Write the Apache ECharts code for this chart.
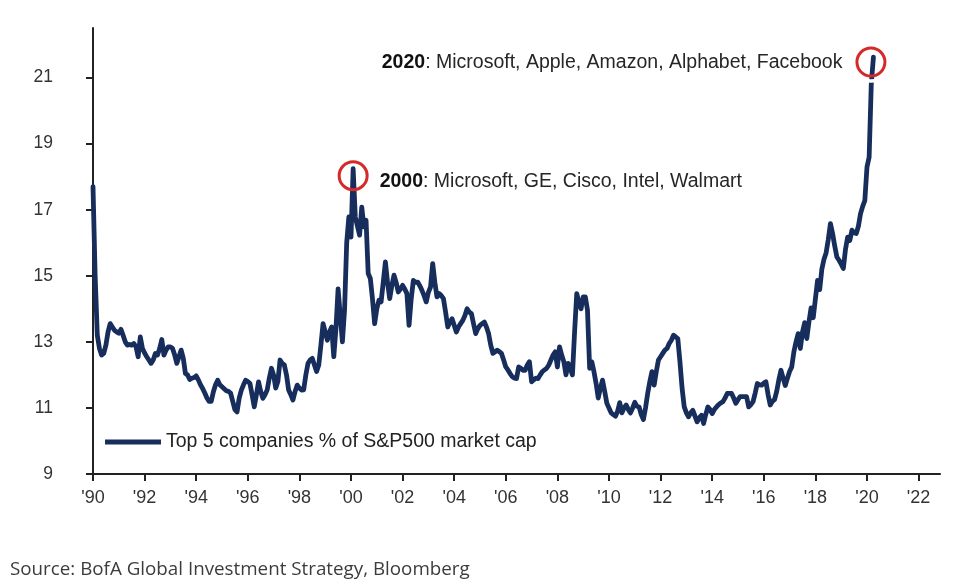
<!DOCTYPE html>
<html><head><meta charset="utf-8">
<script src="https://cdn.jsdelivr.net/npm/echarts@6/dist/echarts.min.js"></script>
<style>html,body{margin:0;padding:0;background:#fff}#c{width:959px;height:588px}</style>
</head><body><div id="c"></div>
<script>
const startYear = 1990; // monthly observations from Jan 1990
const values = [
  17.7,15.0,13.2,12.8,12.6,12.65,12.9,13.3,13.55,13.45,13.35,13.3,
  13.26,13.38,13.2,13.0,12.9,12.92,12.9,12.95,12.85,12.55,13.15,12.8,
  12.66,12.55,12.45,12.35,12.45,12.65,12.6,12.8,13.07,12.6,12.75,12.85,
  12.85,12.8,12.6,12.35,12.55,12.75,12.5,12.04,12.0,11.86,11.9,11.92,
  11.97,11.85,11.7,11.59,11.45,11.3,11.2,11.2,11.49,11.7,11.84,11.7,
  11.64,11.58,11.52,11.5,11.45,11.2,10.95,10.88,11.3,11.54,11.7,11.84,
  11.8,11.74,11.4,11.03,11.4,11.79,11.5,11.29,11.4,11.54,11.9,12.2,
  12.0,11.6,11.8,12.45,12.35,12.3,12.0,11.54,11.4,11.24,11.5,11.69,
  11.6,11.54,11.55,12.0,12.35,12.45,12.5,12.3,12.1,12.3,12.9,13.55,
  13.3,13.05,13.3,13.45,12.55,13.4,14.6,13.8,13.0,13.96,16.0,16.78,
  16.17,18.24,16.78,16.5,16.23,17.08,16.48,16.68,15.07,14.92,14.3,13.55,
  14.0,14.26,14.21,14.8,15.42,14.8,14.31,14.7,15.02,14.8,14.51,14.6,
  14.71,14.6,14.46,13.5,14.3,14.86,14.8,14.81,14.7,14.56,14.4,14.21,
  14.5,14.66,15.37,14.8,14.36,14.46,14.4,14.31,13.9,13.45,13.6,13.7,
  13.5,13.3,13.45,13.55,13.65,13.8,14.0,13.9,13.86,13.55,13.25,13.4,
  13.5,13.55,13.6,13.45,13.25,12.9,12.65,12.7,12.75,12.7,12.65,12.45,
  12.24,12.15,12.04,11.95,11.9,11.89,12.24,12.2,12.14,12.14,12.3,12.4,
  11.79,11.85,11.9,11.89,12.0,12.1,12.15,12.2,12.3,12.45,12.6,12.7,
  12.24,12.85,12.6,12.4,12.0,12.35,12.2,12.0,13.3,14.46,14.2,14.0,
  14.36,14.36,13.96,12.2,12.4,12.1,11.74,11.3,11.6,11.84,11.5,11.14,
  11.0,10.85,10.8,10.75,10.9,11.16,10.85,11.0,11.09,10.95,10.85,11.0,
  11.17,11.05,11.03,10.8,10.65,11.0,11.44,11.8,12.1,11.69,12.1,12.45,
  12.55,12.65,12.75,12.8,12.95,13.05,13.2,13.15,13.1,12.4,11.6,11.03,
  10.85,10.73,10.85,10.93,10.75,10.58,10.7,10.78,10.53,10.8,11.03,10.95,
  10.83,10.95,11.03,11.1,11.15,11.19,11.3,11.44,11.44,11.44,11.3,11.14,
  11.25,11.34,11.34,11.34,11.34,11.03,11.1,11.19,11.45,11.74,11.7,11.69,
  11.75,11.79,11.4,11.09,11.2,11.25,11.5,11.85,12.14,11.9,11.68,11.9,
  12.1,12.24,12.7,13.0,13.25,12.8,13.3,13.58,13.1,13.6,14.03,13.73,
  14.3,14.86,14.58,15.2,15.5,15.7,16.1,16.58,16.28,15.9,15.57,15.47,
  15.35,15.22,15.8,16.17,16.07,16.38,16.3,16.28,16.5,16.88,17.1,17.28,
  18.29,18.59,20.81,21.62
];
const yTicks = [9, 11, 13, 15, 17, 19, 21];
const xTicks = [1990,1992,1994,1996,1998,2000,2002,2004,2006,2008,2010,2012,2014,2016,2018,2020,2022];
const seriesName = 'Top 5 companies % of S&P500 market cap';
const noteYears = ['2000', '2020'];
const noteTexts = ['Microsoft, GE, Cisco, Intel, Walmart', 'Microsoft, Apple, Amazon, Alphabet, Facebook'];
const sourceText = 'Source: BofA Global Investment Strategy, Bloomberg';

const data = values.map((v, i) => [startYear + i / 12, v]);
// peak around 2000 and overall peak (2020)
let i2000 = -1;
for (let i = 0; i < data.length; i++) {
  if (data[i][0] >= 1999 && data[i][0] < 2001 && (i2000 < 0 || values[i] > values[i2000])) i2000 = i;
}
let i2020 = 0;
values.forEach((v, i) => { if (v > values[i2020]) i2020 = i; });

const navy = '#172e5c';
const red = '#d42a2a';
const txtFont = 'Liberation Sans, Arial, sans-serif';

const chart = echarts.init(document.getElementById('c'), null, {renderer: 'canvas'});
chart.setOption({
  animation: false,
  backgroundColor: '#fff',
  title: {
    text: sourceText, left: 5, top: 555,
    textStyle: {fontFamily: 'Open Sans', fontSize: 18.8, fontWeight: 'normal', color: '#3c3c3c'}
  },
  legend: {
    left: 100, top: 427, icon: 'rect', itemWidth: 56, itemHeight: 5,
    data: [seriesName],
    textStyle: {fontFamily: txtFont, fontSize: 19.5, color: '#222'}
  },
  grid: {left: 93, right: 19, top: 28, bottom: 114, containLabel: false},
  xAxis: {
    type: 'value', min: 1990, max: 2022.83,
    splitLine: {show: false},
    axisLine: {show: true, onZero: false, lineStyle: {color: '#222', width: 2}},
    axisTick: {show: true, length: 7, inside: false, customValues: xTicks, lineStyle: {color: '#222', width: 2}},
    axisLabel: {
      customValues: xTicks, margin: 15,
      formatter: v => "'" + String(Math.round(v)).slice(2),
      fontFamily: txtFont, fontSize: 18, color: '#333'
    }
  },
  yAxis: {
    type: 'value', min: 9, max: 22.5,
    splitLine: {show: false},
    axisLine: {show: true, onZero: false, lineStyle: {color: '#222', width: 2}},
    axisTick: {show: true, length: 7, customValues: yTicks, lineStyle: {color: '#222', width: 2}},
    axisLabel: {customValues: yTicks, margin: 40, fontFamily: txtFont, fontSize: 17.5, color: '#333'}
  },
  series: [{
    name: seriesName, type: 'line', data: data, showSymbol: false, symbol: 'none',
    lineStyle: {color: navy, width: 4.8, join: 'round', cap: 'round'},
    itemStyle: {color: navy},
    markPoint: {
      silent: true, symbol: 'circle', symbolSize: 28,
      itemStyle: {color: 'rgba(0,0,0,0)', borderColor: red, borderWidth: 3},
      label: {
        show: true, fontFamily: txtFont, fontSize: 19.5, color: '#262626',
        rich: {b: {fontWeight: 'bold', fontFamily: txtFont, fontSize: 19.5, color: '#111'}}
      },
      data: [
        {
          coord: data[i2000], symbolOffset: [0, 7],
          label: {position: 'right', distance: 11, offset: [0, 6], formatter: '{b|' + noteYears[0] + '}: ' + noteTexts[0]}
        },
        {
          coord: data[i2020], symbolSize: 38, symbolOffset: [-2.5, 5],
          itemStyle: {color: 'rgba(0,0,0,0)', borderColor: '#fff', borderWidth: 3.5},
          label: {show: false}
        },
        {
          coord: data[i2020], symbolOffset: [-2.5, 5],
          label: {position: 'left', distance: 13, offset: [0, 1], formatter: '{b|' + noteYears[1] + '}: ' + noteTexts[1]}
        }
      ]
    }
  }]
});
</script></body></html>
